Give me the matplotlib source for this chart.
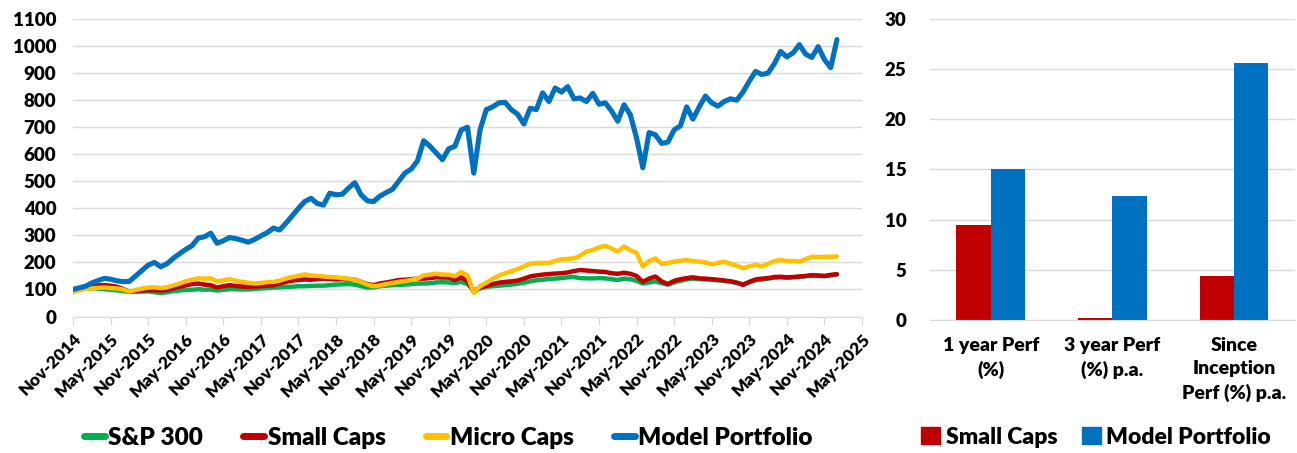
import matplotlib
matplotlib.use("Agg")
import matplotlib.pyplot as plt
from matplotlib.lines import Line2D
from matplotlib.patches import Patch

plt.rcParams['font.family'] = ['Lato', 'DejaVu Sans']
plt.rcParams['font.weight'] = 'bold'

# monthly index values, Nov-2014 onwards
model_portfolio = [100, 106, 112, 124, 133, 141, 138, 132, 129, 130, 150, 170, 190, 200, 184, 195,
                   215, 232, 248, 262, 290, 295, 308, 271, 280, 292, 288, 282, 275, 285, 298, 310,
                   327, 320, 345, 372, 400, 425, 437, 418, 412, 456, 450, 452, 475, 495, 450, 428,
                   425, 445, 458, 470, 500, 530, 545, 575, 650, 630, 605, 580, 620, 630, 690, 700,
                   530, 690, 765, 775, 790, 792, 765, 748, 712, 770, 765, 827, 795, 845, 830, 850,
                   805, 808, 795, 825, 785, 790, 760, 722, 783, 746, 660, 550, 680, 672, 640, 645,
                   690, 705, 775, 730, 775, 815, 790, 778, 795, 805, 800, 830, 870, 906, 895, 900,
                   935, 980, 960, 975, 1005, 970, 958, 998, 950, 920, 1024]
micro_caps = [90, 97, 102, 104, 106, 107, 105, 104, 100, 92, 98, 103, 107, 108, 105, 108,
              115, 122, 130, 136, 141, 140, 141, 130, 134, 138, 132, 128, 125, 122, 124, 127,
              128, 133, 140, 146, 150, 156, 152, 150, 148, 146, 145, 142, 140, 135, 128, 118,
              112, 115, 120, 124, 128, 131, 135, 140, 152, 155, 158, 155, 155, 149, 165, 151,
              88, 112, 125, 139, 151, 160, 167, 175, 185, 195, 198, 198, 198, 205, 212, 213,
              215, 225, 240, 246, 256, 261, 252, 240, 259, 245, 235, 185, 205, 215, 195, 198,
              203, 206, 209, 205, 203, 200, 193, 198, 203, 195, 188, 179, 185, 191, 185, 195,
              205, 209, 205, 205, 203, 212, 221, 220, 220, 221, 222]
small_caps = [100, 105, 110, 113, 115, 116, 114, 110, 102, 92, 94, 96, 98, 97, 96, 98,
              104, 110, 115, 120, 122, 118, 116, 107, 112, 116, 113, 111, 110, 111, 112, 114,
              116, 122, 128, 133, 135, 137, 136, 138, 140, 138, 137, 138, 137, 136, 128, 120,
              116, 122, 126, 130, 135, 136, 138, 140, 140, 142, 145, 144, 144, 135, 145, 130,
              91, 106, 113, 120, 125, 128, 130, 133, 140, 148, 152, 155, 157, 159, 160, 163,
              168, 172, 170, 168, 166, 165, 160, 158, 162, 158, 150, 128, 140, 148, 130, 120,
              132, 138, 142, 145, 141, 140, 138, 136, 133, 130, 125, 117, 128, 137, 140, 142,
              146, 147, 145, 146, 148, 150, 153, 152, 150, 154, 157]
sp300 = [100, 102, 104, 105, 103, 101, 99, 97, 94, 91, 92, 92, 93, 90, 87, 90,
         94, 96, 98, 99, 101, 99, 100, 96, 99, 101, 101, 100, 100, 102, 104, 105,
         107, 108, 110, 110, 112, 112, 113, 114, 114, 116, 118, 119, 120, 118, 112, 107,
         108, 112, 114, 116, 117, 118, 120, 122, 122, 123, 126, 127, 126, 124, 128, 120,
         98, 104, 110, 112, 114, 116, 118, 121, 125, 130, 134, 136, 139, 140, 142, 145,
         146, 142, 141, 141, 142, 141, 138, 135, 140, 138, 132, 122, 126, 130, 123, 118,
         126, 132, 137, 140, 138, 137, 136, 134, 132, 130, 125, 119, 127, 134, 137, 140,
         144, 145, 143, 145, 147, 149, 151, 150, 149, 152, 155]

tick_labels = ['Nov-2014', 'May-2015', 'Nov-2015', 'May-2016', 'Nov-2016', 'May-2017',
               'Nov-2017', 'May-2018', 'Nov-2018', 'May-2019', 'Nov-2019', 'May-2020',
               'Nov-2020', 'May-2021', 'Nov-2021', 'May-2022', 'Nov-2022', 'May-2023',
               'Nov-2023', 'May-2024', 'Nov-2024', 'May-2025']

perf_labels = ['1 year Perf\n(%)', '3 year Perf\n(%) p.a.', 'Since\nInception\nPerf (%) p.a.']
perf_small = [9.45, 0.23, 4.4]
perf_model = [15.0, 12.4, 25.65]

blue = '#0070C0'
red = '#C00000'
yellow = '#FFC000'
green = '#00B050'
grid = '#D9D9D9'

fig = plt.figure(figsize=(12.97, 4.53), dpi=100)

# left: growth chart
ax = fig.add_axes([0.0563, 0.3013, 0.6083, 0.6567])
months = list(range(len(model_portfolio)))
ax.plot(months, sp300, color=green, lw=3.2, solid_capstyle='round')
ax.plot(months, small_caps, color=red, lw=3.2, solid_capstyle='round')
ax.plot(months, micro_caps, color=yellow, lw=3.2, solid_capstyle='round')
ax.plot(months, model_portfolio, color=blue, lw=3.7, solid_capstyle='round')
ax.set_xlim(0, 126)
ax.set_ylim(0, 1100)
ax.set_yticks(range(0, 1101, 100))
ax.set_xticks(range(0, 127, 6))
ax.set_xticklabels(tick_labels, rotation=45, ha='right', rotation_mode='anchor',
                   fontsize=12.5, fontweight='heavy')
ax.tick_params(axis='y', length=0, labelsize=13.5, pad=12)
ax.tick_params(axis='x', length=6, color=grid, width=1, pad=4)
for t in ax.get_yticklabels():
    t.set_fontweight('heavy')
ax.grid(axis='y', color=grid, lw=1)
ax.set_axisbelow(True)
for s in ['top', 'right', 'left']:
    ax.spines[s].set_visible(False)
ax.spines['bottom'].set_color(grid)

handles = [Line2D([], [], color=c, lw=5, solid_capstyle='round') for c in [green, red, yellow, blue]]
fig.legend(handles, ['S&P 300', 'Small Caps', 'Micro Caps', 'Model Portfolio'],
           loc='center left', bbox_to_anchor=(72 / 1297, 1 - 438 / 453), ncol=4, frameon=False,
           handlelength=0.85, handletextpad=0.15, columnspacing=1.65,
           borderpad=0, prop={'weight': 'heavy', 'size': 17.5})

# right: performance bars
ax2 = fig.add_axes([0.717, 0.2936, 0.2814, 0.6645])
pos = list(range(len(perf_labels)))
w = 0.282
ax2.bar([p - w / 2 for p in pos], perf_small, width=w, color=red)
ax2.bar([p + w / 2 for p in pos], perf_model, width=w, color=blue)
ax2.set_xlim(-0.5, 2.5)
ax2.set_ylim(0, 30)
ax2.set_yticks(range(0, 31, 5))
ax2.set_xticks(pos)
ax2.set_xticklabels(perf_labels, fontsize=14, fontweight='heavy', linespacing=1.45)
ax2.tick_params(axis='both', length=0)
ax2.tick_params(axis='y', pad=17, labelsize=13.5)
ax2.tick_params(axis='x', pad=12)
for t in ax2.get_yticklabels():
    t.set_fontweight('heavy')
ax2.grid(axis='y', color=grid, lw=1)
ax2.set_axisbelow(True)
for s in ['top', 'right', 'left']:
    ax2.spines[s].set_visible(False)
ax2.spines['bottom'].set_color(grid)

handles2 = [Patch(color=red), Patch(color=blue)]
fig.legend(handles2, ['Small Caps', 'Model Portfolio'], loc='center left',
           bbox_to_anchor=(910 / 1297, 1 - 437 / 453), ncol=2, frameon=False,
           handlelength=0.8, handleheight=0.8, handletextpad=0.25, columnspacing=1.1,
           borderpad=0, prop={'weight': 'heavy', 'size': 16.5})

fig.savefig('out.png', dpi=100)
